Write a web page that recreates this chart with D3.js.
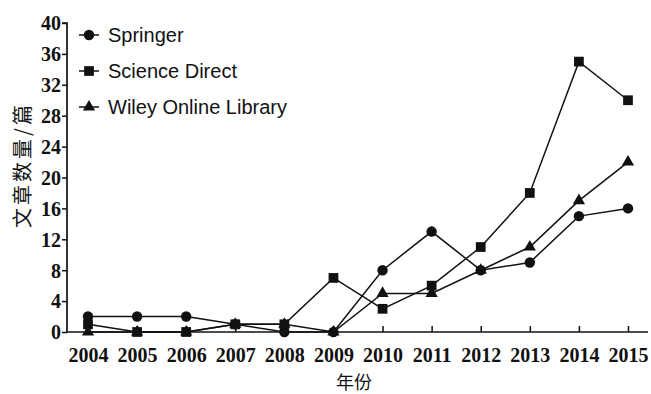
<!DOCTYPE html>
<html><head><meta charset="utf-8">
<script src="https://cdn.jsdelivr.net/npm/d3@7"></script>
<style>body{margin:0;background:#fff}</style>
</head><body>
<svg id="c" width="651" height="394"></svg>
<script>
const years = ["2004","2005","2006","2007","2008","2009","2010","2011","2012","2013","2014","2015"];
const springer = [2,2,2,1,0,0,8,13,8,9,15,16];
const scienceDirect = [1,0,0,1,1,7,3,6,11,18,35,30];
const wiley = [0,0,0,1,1,0,5,5,8,11,17,22];
const yTicks = [0,4,8,12,16,20,24,28,32,36,40];
const seriesNames = ["Springer","Science Direct","Wiley Online Library"];
const seriesData = [springer, scienceDirect, wiley];
const symbols = [d3.symbolCircle, d3.symbolSquare, d3.symbolTriangle];
const symSizes = [85, 95, 65];

const svg = d3.select("#c");
const x0 = 67, yBase = 332, yTop = 23;
const x = d3.scalePoint().domain(years).range([88, 628]);
const y = d3.scaleLinear().domain([0,40]).range([yBase, yTop]);

// axes
const yAxis = svg.append("g").attr("transform",`translate(${x0},0)`)
  .call(d3.axisLeft(y).tickValues(yTicks).tickSize(5).tickPadding(1));
yAxis.select(".domain").attr("d",`M-5,${yTop}H0V${yBase}`).attr("stroke","#111").attr("stroke-width",1.7);
yAxis.selectAll(".tick line").attr("stroke","#111").attr("stroke-width",1.5);
yAxis.selectAll("text").attr("font-family","'Liberation Serif', serif").attr("font-weight","bold")
  .attr("font-size",20).attr("fill","#111").attr("dy","0.34em");

const xAxis = svg.append("g").attr("transform",`translate(0,${yBase})`)
  .call(d3.axisBottom(x).tickSize(-6).tickPadding(13));
xAxis.select(".domain").attr("d",`M${x0},0H648`).attr("stroke","#111").attr("stroke-width",1.7);
xAxis.selectAll(".tick line").attr("stroke","#111").attr("stroke-width",1.5);
xAxis.selectAll("text").attr("font-family","'Liberation Serif', serif").attr("font-weight","bold")
  .attr("font-size",20).attr("fill","#111").attr("dy","0.85em");

// titles
svg.append("text").attr("x",354).attr("y",389).attr("text-anchor","middle")
  .attr("font-family","'Noto Sans CJK SC', sans-serif").attr("font-size",18).attr("fill","#111").text("年份");
svg.append("text").attr("transform","translate(30,165) rotate(-90)").attr("text-anchor","middle")
  .attr("font-family","'Noto Sans CJK SC', sans-serif").attr("font-size",20).attr("letter-spacing",3)
  .attr("fill","#111").text("文章数量/篇");

// lines
const line = d3.line().x((d,i)=>x(years[i])).y(d=>y(d));
seriesData.forEach((data,k)=>{
  svg.append("path").datum(data).attr("d",line).attr("fill","none")
    .attr("stroke","#111").attr("stroke-width",1.5);
});
seriesData.forEach((data,k)=>{
  svg.append("g").selectAll("path").data(data).join("path")
    .attr("transform",(d,i)=>`translate(${x(years[i])},${y(d)})`)
    .attr("d",d3.symbol().type(symbols[k]).size(symSizes[k])).attr("fill","#111");
});

// legend
const legY = [35,71,107];
seriesNames.forEach((name,k)=>{
  const g = svg.append("g").attr("transform",`translate(0,${legY[k]})`);
  g.append("line").attr("x1",79).attr("x2",99).attr("stroke","#111").attr("stroke-width",1.5);
  g.append("path").attr("transform","translate(89,0)").attr("d",d3.symbol().type(symbols[k]).size(symSizes[k])).attr("fill","#111");
  g.append("text").attr("x",108).attr("dy","0.35em").attr("font-family","'Liberation Sans', Arial, sans-serif")
    .attr("font-size",20).attr("fill","#111").text(name);
});
</script>
</body></html>
